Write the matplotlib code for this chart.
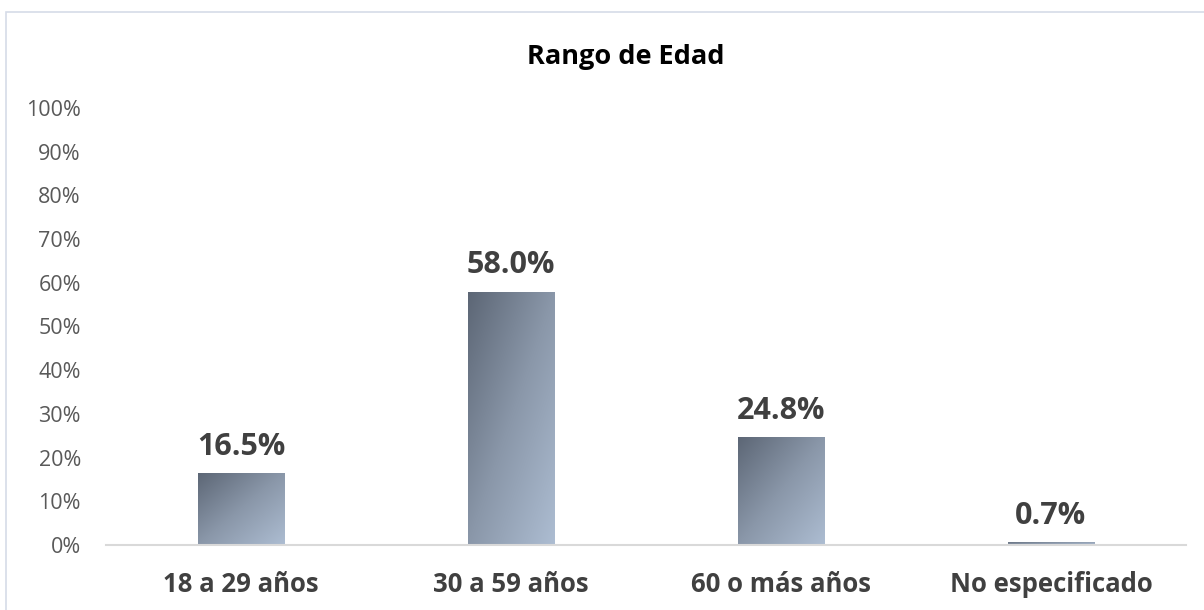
import numpy as np
import matplotlib
matplotlib.use("Agg")
import matplotlib.pyplot as plt
from matplotlib.colors import LinearSegmentedColormap
from matplotlib.patches import Rectangle

categories = ["18 a 29 años", "30 a 59 años", "60 o más años", "No especificado"]
values = [16.5, 58.0, 24.8, 0.7]
yticks = [0, 10, 20, 30, 40, 50, 60, 70, 80, 90, 100]
ytick_labels = [f"{t}%" for t in yticks]
title = "Rango de Edad"

plt.rcParams['font.family'] = ['Open Sans', 'DejaVu Sans']

W, H = 1204, 610
fig = plt.figure(figsize=(W / 100, H / 100), dpi=100)
ax = fig.add_axes([106 / W, 65 / H, (1186 - 106) / W, 437 / H])

x = np.arange(len(categories))
bars = ax.bar(x, values, width=0.32, color="none", edgecolor="none")

cmap = LinearSegmentedColormap.from_list("g", ["#5c6675", "#8a97a9", "#adbdd2"])
u, v = np.meshgrid(np.linspace(0, 1, 200), np.linspace(0, 1, 200))
grad = (u + v) / 2.0
for b in bars:
    x0, y0 = b.get_x(), b.get_y()
    w, h = b.get_width(), b.get_height()
    im = ax.imshow(grad, extent=(x0, x0 + w, y0, y0 + h), origin="upper",
                   cmap=cmap, vmin=0, vmax=1, aspect="auto", interpolation="bilinear", zorder=2)
    im.set_clip_path(b)

for xi, val in zip(x, values):
    ax.annotate(f"{val:.1f}%", (xi, val), xytext=(0, 8), textcoords="offset points",
                ha="center", va="bottom", fontsize=22, fontweight="bold", color="#404040")

ax.set_xlim(-0.5, len(categories) - 0.5)
ax.set_ylim(0, 100)
ax.set_yticks(yticks)
ax.set_yticklabels(ytick_labels, fontsize=15.5, color="#595959")
ax.set_xticks(x)
ax.set_xticklabels(categories, fontsize=18.5, fontweight="bold", color="#404040")
ax.tick_params(axis="y", length=0, pad=18)
ax.tick_params(axis="x", length=0, pad=19)
for s in ["top", "right", "left"]:
    ax.spines[s].set_visible(False)
ax.spines["bottom"].set_color("#d9d9d9")
ax.spines["bottom"].set_linewidth(1.5)

fig.text(626 / W, 1 - 57 / H, title, ha="center", va="center", fontsize=19.5,
         fontweight="bold", color="#000000")

fig.patches.append(Rectangle((5.5 / W, -0.1), 1.2, 1 - 12.5 / H + 0.1, transform=fig.transFigure,
                             fill=False, edgecolor="#d6dce8", linewidth=1.2))

fig.savefig("out.png", dpi=100, facecolor="white")
